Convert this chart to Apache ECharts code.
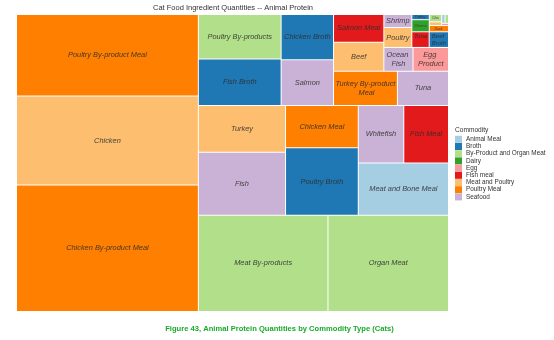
<!DOCTYPE html>
<html><head><meta charset="utf-8">
<script src="https://cdn.jsdelivr.net/npm/echarts@6/dist/echarts.min.js"></script>
<style>html,body{margin:0;padding:0;background:#fff}#c{width:554px;height:340px}</style>
</head><body><div id="c"></div>
<script>
// Commodity types and their colours (legend order)
const commodities = ['Animal Meal','Broth','By-Product and Organ Meat','Dairy','Egg','Fish meal','Meat and Poultry','Poultry Meal','Seafood'];
const palette = ['#a6cee3','#1f78b4','#b2df8a','#33a02c','#fb9a99','#e31a1c','#fdbf6f','#ff7f00','#cab2d6'];

// Ingredients: [name, commodity, quantity]
const leftColumn = [['Poultry By-product Meal','Poultry Meal',981],['Chicken','Meat and Poultry',1070],['Chicken By-product Meal','Poultry Meal',1524]];
const topColumns = [['Poultry By-products','By-Product and Organ Meat',244],['Fish Broth','Broth',255],['Chicken Broth','Broth',157],['Salmon','Seafood',159]];
const topBlockLeft = [['Salmon Meal','Fish meal',92],['Beef','Meat and Poultry',97]];
const topBlockSmall = [['Shrimp','Seafood',24],['Poultry','Meat and Poultry',37]];
const smallLeft = [['Turkey Broth','Broth',6],['Cheese','Dairy',14]];
const smallTiles = [['Chicken Liver','By-Product and Organ Meat',6],['Lamb','Meat and Poultry',3],['Meat Meal','Animal Meal',2],['Giblets','By-Product and Organ Meat',2],['Dried Egg','Egg',1]];
const smallStrip = [['Duck Meal','Poultry Meal',8]];
const smallBottom = [['Tuna Meal','Fish meal',18],['Beef Broth','Broth',20]];
const eggRow = [['Ocean Fish','Seafood',46],['Egg Product','Egg',56]];
const topBlockBottom = [['Turkey By-product Meal','Poultry Meal',145],['Tuna','Seafood',116]];
const middleRows = [['Turkey','Meat and Poultry',270],['Fish','Seafood',363],['Chicken Meal','Poultry Meal',203],['Poultry Broth','Broth',325],['Whitefish','Seafood',173],['Fish Meal','Fish meal',170],['Meat and Bone Meal','Animal Meal',312]];
const bottomRow = [['Meat By-products','By-Product and Organ Meat',826],['Organ Meat','By-Product and Organ Meat',768]];

const colorOf = c => palette[commodities.indexOf(c)];
function leaf(r) {
  const node = { name: r[0], value: r[2], commodity: r[1], itemStyle: { color: colorOf(r[1]) } };
  if (r[2] < 5) node.label = { show: false };
  else if (r[2] < 16) node.label = { fontSize: 3.5, lineHeight: 4 };
  else if (r[2] < 22) node.label = { fontSize: 6, lineHeight: 6.6, padding: 0 };
  return node;
}
const leaves = a => a.map(leaf);
const group = children => ({ name: '', children });

const cluster = group([
  group([...leaves(smallLeft), group([group(leaves(smallTiles)), ...leaves(smallStrip)])]),
  group(leaves(smallBottom))
]);
const rightTop = group([...leaves(topBlockSmall), cluster]);
const rightBlock = group([rightTop, group(leaves(eggRow))]);
const upperBlock = group([...leaves(topBlockLeft), rightBlock]);
const topBlock = group([upperBlock, group(leaves(topBlockBottom))]);
const topRegion = group([...leaves(topColumns), topBlock]);
const upper = group([topRegion, group(leaves(middleRows))]);
const rightPart = group([upper, ...leaves(bottomRow)]);
const treeData = [...leaves(leftColumn), rightPart];

const chart = echarts.init(document.getElementById('c'), null, { renderer: 'canvas' });
chart.setOption({
  animation: false,
  backgroundColor: '#fff',
  title: [
    { text: 'Cat Food Ingredient Quantities -- Animal Protein', left: 233, top: 4, textAlign: 'center', padding: 0,
      textStyle: { fontSize: 7.5, fontWeight: 'normal', color: '#333', fontFamily: 'Liberation Sans' } },
    { text: 'Commodity', left: 455, top: 126.5, padding: 0,
      textStyle: { fontSize: 6.6, fontWeight: 'normal', color: '#333', fontFamily: 'Liberation Sans' } },
    { text: 'Figure 43, Animal Protein Quantities by Commodity Type (Cats)', left: 279.5, top: 324.5, textAlign: 'center', padding: 0,
      textStyle: { fontSize: 7.6, fontWeight: 'bold', color: '#1aab2a', fontFamily: 'Liberation Sans' } }
  ],
  legend: {
    orient: 'vertical', left: 455, top: 135.8, padding: 0,
    itemWidth: 7, itemHeight: 7, itemGap: 0.2, icon: 'rect', selectedMode: false,
    textStyle: { fontSize: 6.4, lineHeight: 7, color: '#333', fontFamily: 'Liberation Sans', padding: [0,0,0,-1] },
    data: commodities
  },
  series: [
    {
      type: 'treemap',
      left: 17, top: 15, width: 431, height: 296,
      sort: false,
      squareRatio: 1.7,
      roam: false, nodeClick: false,
      visibleMin: 1,
      breadcrumb: { show: false },
      itemStyle: { gapWidth: 1, borderWidth: 0, borderColor: '#fff' },
      label: { show: true, position: 'inside', fontSize: 7.4, lineHeight: 8.5, fontStyle: 'italic', padding: [0, 1],
               fontFamily: 'Liberation Sans', color: 'rgba(45,45,45,0.88)', overflow: 'break' },
      upperLabel: { show: false },
      data: treeData
    },
    ...commodities.map((c, i) => ({ type: 'pie', name: c, data: [], showEmptyCircle: false, silent: true,
      itemStyle: { color: palette[i] } }))
  ]
});
</script></body></html>
